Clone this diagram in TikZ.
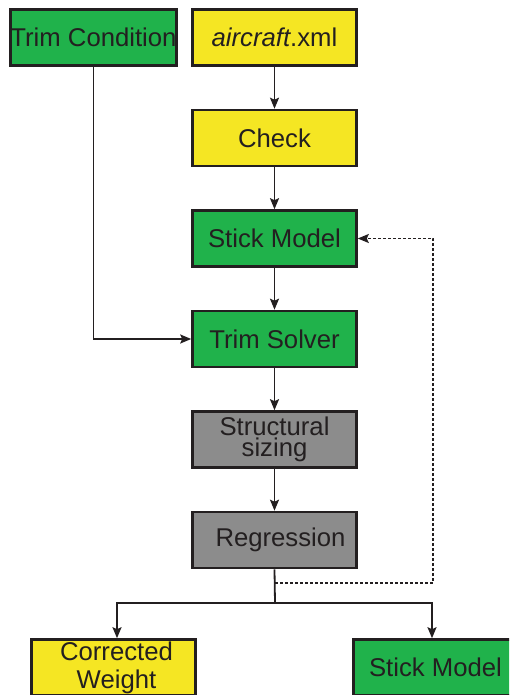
\documentclass[tikz,border=0pt]{standalone}
\usepackage{fontspec}
\setmainfont{Liberation Sans}
\usetikzlibrary{arrows.meta}
\definecolor{boxgreen}{RGB}{32,178,75}
\definecolor{boxyellow}{RGB}{245,230,35}
\definecolor{boxgray}{RGB}{140,140,140}
\definecolor{ink}{RGB}{35,31,32}
\tikzset{
  stage/.style={draw=ink, line width=2.6pt, minimum width=164pt, minimum height=56pt,
    inner sep=0pt, align=center, text=ink, font=\fontsize{25.7}{21}\selectfont},
  greenstage/.style={stage, fill=boxgreen},
  yellowstage/.style={stage, fill=boxyellow},
  graystage/.style={stage, fill=boxgray},
  conn/.style={draw=ink, line width=1.8pt, -{Stealth[length=11pt,width=9pt,inset=2pt]}},
  link/.style={draw=ink, line width=1.8pt},
  feedback/.style={draw=ink, line width=1.6pt, dash pattern=on 3pt off 2pt,
    -{Stealth[length=11pt,width=9pt,inset=2pt]}}
}
\begin{document}
\begin{tikzpicture}[x=1pt,y=-1pt]
\useasboundingbox (0,0) rectangle (509,695);
\clip (0,0) rectangle (509,695);
\fill[white] (0,0) rectangle (509,695);

% stages of the sizing loop
\node[greenstage]  (tc)     at (93.5,37.5)  {Trim Condition};
\node[yellowstage] (xml)    at (274.5,37.5) {\textit{aircraft}.xml};
\node[yellowstage] (check)  at (274.5,138)  {Check};
\node[greenstage]  (stick)  at (274.5,238.5) {Stick Model};
\node[greenstage]  (solver) at (274.5,339)  {Trim Solver};
\node[graystage]   (sizing) at (274.5,439.5) {Structural\\sizing};
\node[graystage]   (regr)   at (274.5,540)  {\hspace*{12pt}Regression};
\node[yellowstage, font=\fontsize{25.7}{28}\selectfont] (cw) at (113.5,667.5) {\hspace*{6pt}Corrected\\\hspace*{6pt}Weight};
\node[greenstage]  (stick2) at (435.5,667.5) {Stick Model};

% main flow
\draw[conn] (xml) -- (check);
\draw[conn] (check) -- (stick);
\draw[conn] (stick) -- (solver);
\draw[conn] (solver) -- (sizing);
\draw[conn] (sizing) -- (regr);
\draw[conn] (tc.south) |- (solver.west);

% outputs of the regression
\coordinate (tap)   at (275,583);
\coordinate (split) at (275,603);
\draw[link] (regr.south) -- (split);
\draw[conn] (split) -| ([xshift=3.5pt]cw.north);
\draw[conn] (split) -| ([xshift=-3.5pt]stick2.north);

% feedback to the stick model
\draw[feedback] (tap) -- (433,583) |- (stick.east);
\end{tikzpicture}
\end{document}
